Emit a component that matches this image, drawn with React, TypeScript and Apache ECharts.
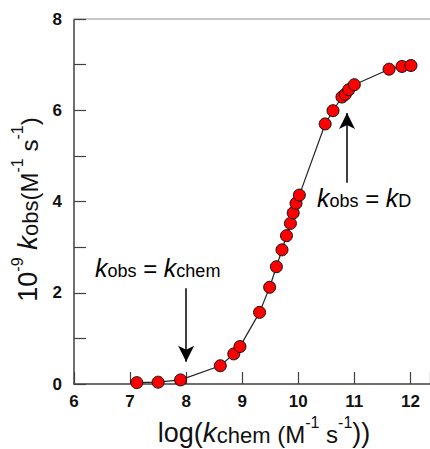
import React, { useEffect, useRef } from "react";
import * as echarts from "echarts";

const logKchem: number[] = [7.12, 7.5, 7.9, 8.61, 8.85, 8.96, 9.31, 9.49, 9.61, 9.71, 9.79, 9.86, 9.91, 9.96, 10.02, 10.48, 10.62, 10.78, 10.84, 10.9, 11.0, 11.62, 11.85, 12.01];
const kObs: number[] = [0.03, 0.04, 0.09, 0.4, 0.66, 0.82, 1.57, 2.12, 2.57, 2.94, 3.25, 3.52, 3.75, 3.96, 4.14, 5.7, 5.99, 6.29, 6.35, 6.45, 6.56, 6.9, 6.96, 6.98];
const xTicks: number[] = [6, 7, 8, 9, 10, 11, 12];
const yLabels: number[] = [0, 2, 4, 6, 8];
const arrowChem: [number, number][] = [[8, 2.1], [8, 0.49]];
const arrowD: [number, number][] = [[10.87, 4.41], [10.87, 5.94]];

const FONT = "'Liberation Sans', Arial, sans-serif";

export default function App() {
  const ref = useRef<HTMLDivElement>(null);
  useEffect(() => {
    if (!ref.current) return;
    const chart = echarts.init(ref.current, null, { renderer: "svg" });
    const axisColor = "#404040";
    const LH = 32;
    const titleRich = {
      n: { fontSize: 27, fontFamily: FONT, color: "#111", lineHeight: LH, verticalAlign: "bottom" },
      m: { fontSize: 24, fontFamily: FONT, color: "#111", lineHeight: LH, verticalAlign: "bottom" },
      k: { fontSize: 28, fontFamily: FONT, fontStyle: "italic", color: "#111", lineHeight: LH, verticalAlign: "bottom" },
      s: { fontSize: 22, fontFamily: FONT, color: "#111", lineHeight: LH, verticalAlign: "bottom" },
      p: { fontSize: 16, fontFamily: FONT, color: "#111", lineHeight: LH, verticalAlign: "top" },
    };
    const annRich = (color: string) => ({
      k: { fontSize: 25, fontFamily: FONT, fontStyle: "italic", color, lineHeight: 30, verticalAlign: "bottom" },
      s: { fontSize: 18, fontFamily: FONT, color, lineHeight: 30, verticalAlign: "bottom" },
      n: { fontSize: 24, fontFamily: FONT, color, lineHeight: 30, verticalAlign: "bottom" },
    });
    chart.setOption({
      animation: false,
      grid: { left: 74, top: 19, right: 0, bottom: 65, containLabel: false, outerBoundsMode: "none" },
      xAxis: [
        {
          type: "value",
          min: 6,
          max: 12.35,
          interval: 1,
          name: "{n|log(}{k|k}{s|chem}{m| (M}{p|-1}{m| s}{p|-1}{n|))}",
          nameLocation: "middle",
          nameGap: 28,
          nameTextStyle: { rich: titleRich, padding: [0, 0, 0, 24] },
          axisLine: { show: true, lineStyle: { color: axisColor, width: 1.5 } },
          axisTick: { show: true, inside: true, length: 12, lineStyle: { color: axisColor, width: 1.2 } },
          axisLabel: {
            margin: 9,
            fontSize: 17,
            fontWeight: "bold",
            fontFamily: FONT,
            color: "#111",
            formatter: (v: number) => (xTicks.includes(v) ? String(v) : ""),
          },
          splitLine: { show: false },
        },
        {
          type: "value",
          position: "top",
          min: 6,
          max: 12.35,
          axisLine: { show: true, lineStyle: { color: "#c8c8c8", width: 2 } },
          axisTick: { show: false },
          axisLabel: { show: false },
          splitLine: { show: false },
        },
      ],
      yAxis: {
        type: "value",
        min: 0,
        max: 8,
        interval: 1,
        name: "{n|10}{p|-9}{n| }{k|k}{s|obs}{m|(M}{p|-1}{m| s}{p|-1}{m|)}",
        nameLocation: "middle",
        nameGap: 33,
        nameRotate: 90,
        nameTextStyle: { rich: titleRich, padding: [0, 16, 0, 0] },
        axisLine: { show: true, lineStyle: { color: axisColor, width: 1.5 } },
        axisTick: { show: true, inside: true, length: 12, lineStyle: { color: axisColor, width: 1.2 } },
        axisLabel: {
          margin: 12,
          fontSize: 17,
          fontWeight: "bold",
          fontFamily: FONT,
          color: "#111",
          formatter: (v: number) => (yLabels.includes(v) ? String(v) : ""),
        },
        splitLine: { show: false },
      },
      series: [
        {
          type: "line",
          data: logKchem.map((x, i) => [x, kObs[i]]),
          symbol: "circle",
          symbolSize: 12,
          lineStyle: { color: "#222", width: 1.2 },
          itemStyle: { color: "#ff0000", borderColor: "#111", borderWidth: 1 },
          z: 3,
          markLine: {
            silent: true,
            symbol: ["none", "arrow"],
            symbolSize: [12, 16],
            label: { show: false },
            lineStyle: { color: "#000", width: 1.5, type: "solid" },
            data: [
              [{ coord: arrowChem[0] }, { coord: arrowChem[1] }],
              [{ coord: arrowD[0] }, { coord: arrowD[1] }],
            ],
          },
        },
      ],
      graphic: [
        {
          type: "text",
          x: 95,
          y: 250,
          style: {
            text: "{k|k}{s|obs}{n| = }{k|k}{s|chem}",
            rich: annRich("#2222ee"),
          },
        },
        {
          type: "text",
          x: 317,
          y: 180,
          style: {
            text: "{k|k}{s|obs}{n| = }{k|k}{s|D}",
            rich: annRich("#ff1111"),
          },
        },
      ],
    });
    return () => chart.dispose();
  }, []);
  return (
    <div
      ref={ref}
      style={{ position: "fixed", left: 0, top: 0, width: 430, height: 449, background: "#fff" }}
    />
  );
}
